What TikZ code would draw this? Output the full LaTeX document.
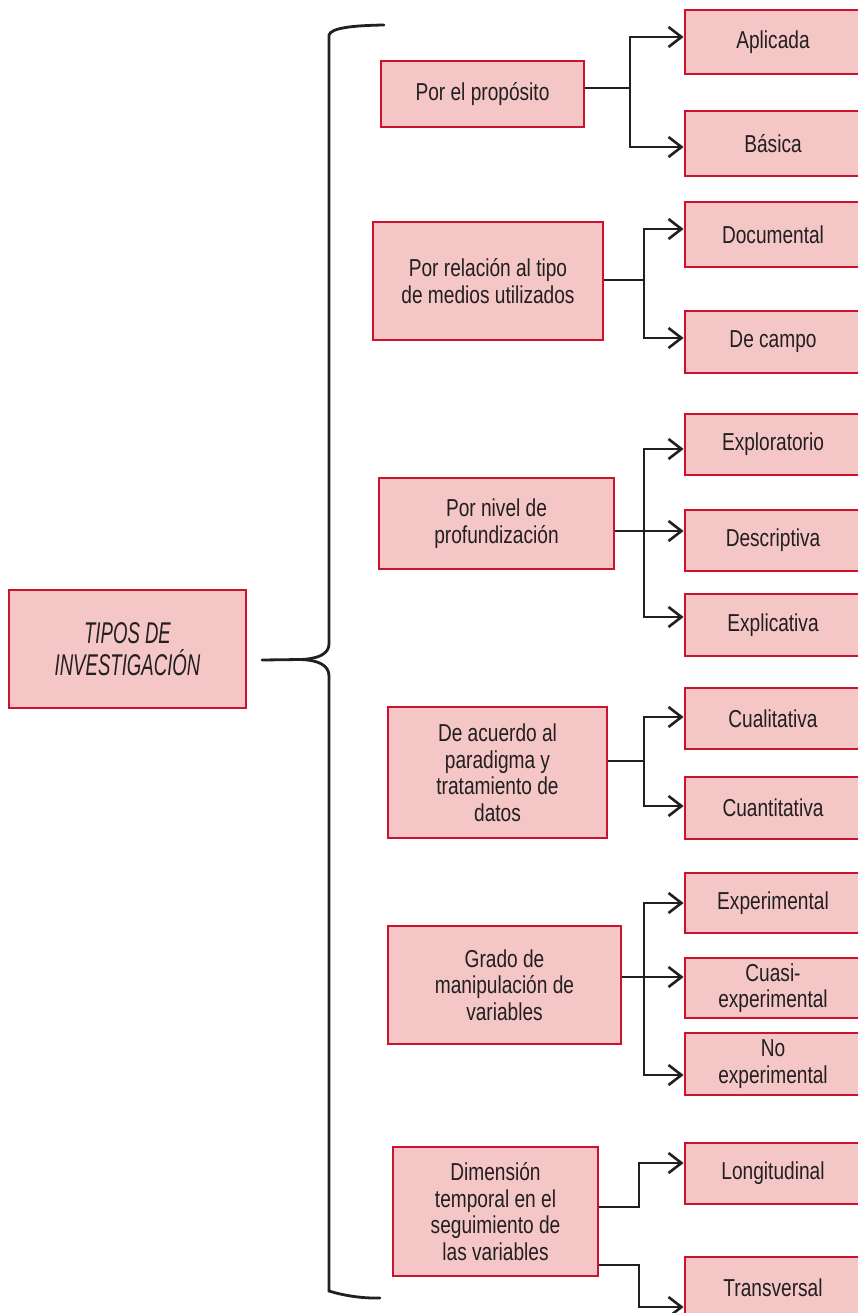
\documentclass[tikz,border=0pt]{standalone}
\usepackage{fontspec}
\setmainfont{Liberation Sans}[FakeStretch=0.78]
\newfontfamily\titlefont{Liberation Sans}[FakeStretch=0.62]
\usetikzlibrary{arrows.meta}
\definecolor{boxred}{RGB}{204,18,44}
\definecolor{boxfill}{RGB}{244,198,198}
\definecolor{ink}{RGB}{35,31,32}
\begin{document}
\begin{tikzpicture}[x=1pt,y=-1pt,
  box/.style={draw=boxred, fill=boxfill, line width=2.8pt, text=ink,
    align=center, inner sep=0pt, font=\fontsize{24.5}{26.5}\selectfont},
  leaf/.style={box, minimum width=176pt},
  link/.style={draw=ink, line width=2.6pt},
  arr/.style={link, -{Straight Barb[length=13pt,width=20pt,line width=2.6pt]}},
  brace/.style={draw=ink, line width=2.8pt, line cap=round},
]
\useasboundingbox (0,0) rectangle (857,1313);

% root
\node[box, minimum width=237pt, minimum height=118pt,
  font=\titlefont\itshape\fontsize{30}{32}\selectfont] (root) at (127.5,649)
  {TIPOS DE\\INVESTIGACIÓN};

% brace
\coordinate (tip) at (262,660);
\draw[brace] (384,25) .. controls (352,25.5) and (331,28) .. (329,35)
  -- (329,644) .. controls (329,654) and (318,659) .. (300,659.5) -- (tip);
\draw[brace] (300,659.5) .. controls (318,660) and (329,665) .. (329,676)
  -- (329,1291) .. controls (342,1295) and (360,1298.5) .. (380,1298);

% criteria
\node[box, minimum width=203pt, minimum height=66pt] (p1) at (482.5,94) {Por el propósito};
\node[box, minimum width=230pt, minimum height=118pt] (p2) at (488,281) {Por relación al tipo\\de medios utilizados};
\node[box, minimum width=235pt, minimum height=91pt] (p3) at (496.5,523.5) {Por nivel de\\profundización};
\node[box, minimum width=219pt, minimum height=131pt] (p4) at (497.5,772.5) {De acuerdo al\\paradigma y\\tratamiento de\\datos};
\node[box, minimum width=233pt, minimum height=118pt] (p5) at (504.5,985) {Grado de\\manipulación de\\variables};
\node[box, minimum width=205pt, minimum height=129pt] (p6) at (495.5,1211.5) {Dimensión\\temporal en el\\seguimiento de\\las variables};

% types
\node[leaf, minimum height=64pt] (a1) at (773,42) {Aplicada};
\node[leaf, minimum height=65pt] (a2) at (773,143.5) {Básica};
\node[leaf, minimum height=65pt] (b1) at (773,234.5) {Documental};
\node[leaf, minimum height=62pt] (b2) at (773,342) {De campo};
\node[leaf, minimum height=61pt] (c1) at (773,444.5) {Exploratorio};
\node[leaf, minimum height=61pt] (c2) at (773,540.5) {Descriptiva};
\node[leaf, minimum height=62pt] (c3) at (773,625) {Explicativa};
\node[leaf, minimum height=61pt] (d1) at (773,718.5) {Cualitativa};
\node[leaf, minimum height=62pt] (d2) at (773,808) {Cuantitativa};
\node[leaf, minimum height=60pt] (e1) at (773,903) {Experimental};
\node[leaf, minimum height=60pt] (e2) at (773,988) {Cuasi-\\experimental};
\node[leaf, minimum height=62pt] (e3) at (773,1064) {No\\experimental};
\node[leaf, minimum height=61pt] (f1) at (773,1173.5) {Longitudinal};
\node[leaf, minimum height=62pt] (f2) at (773,1288) {Transversal};

% connectors
\coordinate (j1) at (630,88);
\draw[link] (p1.east |- j1) -- (j1);
\draw[arr] (j1) |- (a1.west |- 0,37);
\draw[arr] (j1) |- (a2.west |- 0,147);

\coordinate (j2) at (644,280);
\draw[link] (p2.east |- j2) -- (j2);
\draw[arr] (j2) |- (b1.west |- 0,229);
\draw[arr] (j2) |- (b2.west |- 0,338);

\coordinate (j3) at (644,531);
\draw[link] (p3.east |- j3) -- (j3);
\draw[arr] (j3) |- (c1.west |- 0,449);
\draw[arr] (j3) -- (c2.west |- 0,531);
\draw[arr] (j3) |- (c3.west |- 0,617);

\coordinate (j4) at (644,761);
\draw[link] (p4.east |- j4) -- (j4);
\draw[arr] (j4) |- (d1.west |- 0,717);
\draw[arr] (j4) |- (d2.west |- 0,806);

\coordinate (j5) at (644,977);
\draw[link] (p5.east |- j5) -- (j5);
\draw[arr] (j5) |- (e1.west |- 0,903);
\draw[arr] (j5) -- (e2.west |- 0,977);
\draw[arr] (j5) |- (e3.west |- 0,1075);

\coordinate (j6) at (639,1207);
\coordinate (j7) at (639,1265);
\draw[arr] (p6.east |- j6) -- (j6) |- (f1.west |- 0,1163);
\draw[arr] (p6.east |- j7) -- (j7) |- (f2.west |- 0,1307);
\end{tikzpicture}
\end{document}
